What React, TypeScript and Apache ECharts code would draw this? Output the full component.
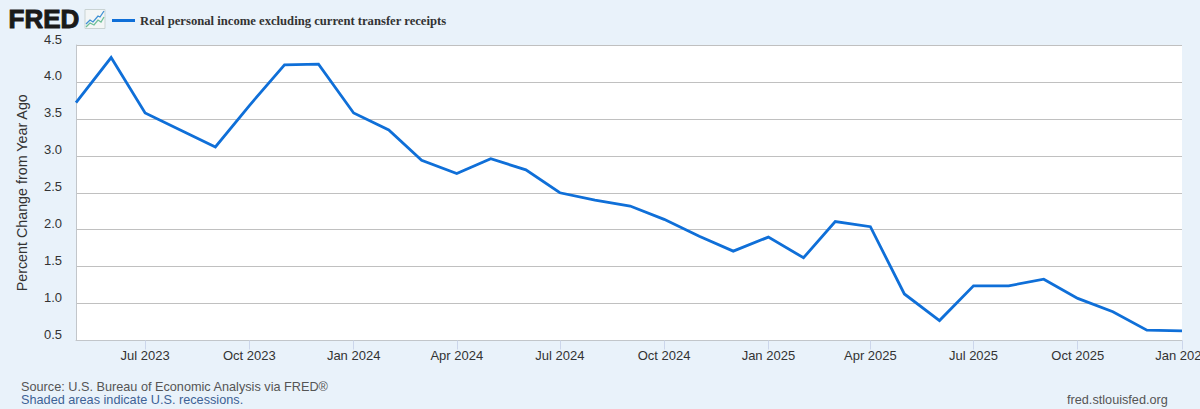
import React, { useEffect, useRef } from "react";
import * as echarts from "echarts";

const months = [
  "2023-05-01","2023-06-01","2023-07-01","2023-08-01","2023-09-01","2023-10-01","2023-11-01","2023-12-01",
  "2024-01-01","2024-02-01","2024-03-01","2024-04-01","2024-05-01","2024-06-01","2024-07-01","2024-08-01",
  "2024-09-01","2024-10-01","2024-11-01","2024-12-01","2025-01-01","2025-02-01","2025-03-01","2025-04-01",
  "2025-05-01","2025-06-01","2025-07-01","2025-08-01","2025-09-01","2025-10-01","2025-11-01","2025-12-01","2026-01-01",
];
const values = [
  3.72,4.33,3.58,3.35,3.12,3.68,4.23,4.24,
  3.58,3.35,2.94,2.76,2.96,2.81,2.50,2.40,
  2.32,2.14,1.91,1.71,1.90,1.62,2.11,2.04,
  1.13,0.77,1.24,1.24,1.33,1.07,0.89,0.64,0.63,
];
const tickDates = [
  "2023-07-01","2023-10-01","2024-01-01","2024-04-01","2024-07-01","2024-10-01",
  "2025-01-01","2025-04-01","2025-07-01","2025-10-01","2026-01-01",
];
const monthNames = ["Jan","Feb","Mar","Apr","May","Jun","Jul","Aug","Sep","Oct","Nov","Dec"];
const seriesName = "Real personal income excluding current transfer receipts";
const yAxisTitle = "Percent Change from Year Ago";
const sourceText = "Source: U.S. Bureau of Economic Analysis via FRED®";
const shadedText = "Shaded areas indicate U.S. recessions.";
const siteText = "fred.stlouisfed.org";

const SANS = '"Liberation Sans", Arial, sans-serif';
const toTime = (d: string) => Date.parse(d + "T00:00:00Z");

export default function App() {
  const ref = useRef<HTMLDivElement>(null);
  useEffect(() => {
    document.body.style.margin = "0";
    const chart = echarts.init(ref.current!, null, { renderer: "svg" });
    chart.setOption({
      animation: false,
      backgroundColor: "#e9f2fa",
      textStyle: { fontFamily: SANS },
      grid: {
        left: 76, right: 18, top: 45, bottom: 68.5,
        outerBoundsMode: "none",
        show: true, backgroundColor: "#ffffff", borderWidth: 0,
      },
      legend: {
        show: true, left: 107, top: 9,
        itemWidth: 23, itemHeight: 16, itemGap: 0,
        data: [{ name: seriesName, icon: "path://M0 0H23V3H0Z" }],
        textStyle: {
          fontFamily: '"Liberation Serif", serif', fontWeight: "bold",
          fontSize: 12.65, color: "#333333", padding: [0, 0, 3, 0],
        },
      },
      xAxis: {
        type: "value",
        min: toTime(months[0]),
        max: toTime(months[months.length - 1]),
        axisLine: { show: true, lineStyle: { color: "#c2c6ca", width: 1 } },
        axisTick: {
          show: true, length: 9, customValues: tickDates.map(toTime),
          lineStyle: { color: "#ccd6eb", width: 1 },
        },
        splitLine: { show: false },
        axisLabel: {
          customValues: tickDates.map(toTime),
          hideOverlap: false,
          margin: 8,
          fontSize: 13,
          color: "#333333",
          fontFamily: SANS,
          formatter: (v: number) => {
            const d = new Date(v);
            return monthNames[d.getUTCMonth()] + " " + d.getUTCFullYear();
          },
        },
      },
      yAxis: {
        type: "value",
        min: 0.5, max: 4.5, interval: 0.5,
        name: yAxisTitle,
        nameLocation: "middle",
        nameGap: 47,
        nameTextStyle: { fontSize: 14.3, color: "#333333", fontFamily: SANS },
        axisLine: { show: true, lineStyle: { color: "#c2c6ca", width: 1 } },
        axisTick: { show: false },
        splitLine: { show: true, lineStyle: { color: "#c0c0c0", width: 1 } },
        axisLabel: {
          margin: 14, fontSize: 13, color: "#333333", fontFamily: SANS,
          verticalAlign: "bottom", lineHeight: 12,
          formatter: (v: number) => v.toFixed(1),
        },
      },
      series: [{
        type: "line",
        name: seriesName,
        data: months.map((m, i) => [toTime(m), values[i]]),
        showSymbol: false,
        symbol: "none",
        lineStyle: { color: "#0f6fd8", width: 2.8, join: "miter" },
        itemStyle: { color: "#0f6fd8" },
      }],
      graphic: [
        { type: "text", x: 8.5, y: 8, style: {
          text: "FRED", fontFamily: SANS, fontWeight: 900, lineHeight: 22,
          fontSize: 26, fill: "#1a1a1a", stroke: "#1a1a1a", lineWidth: 1 } },
        { type: "rect", shape: { x: 85, y: 9.5, width: 20, height: 19 },
          style: { fill: "#f3f6f6", stroke: "#c9d3d3", lineWidth: 1 } },
        { type: "polyline", shape: { points: [[86,24],[90,20],[93,22],[98,16],[100,17],[104,11]] },
          style: { stroke: "#3f90d4", fill: "none", lineWidth: 1.3 } },
        { type: "polyline", shape: { points: [[86,27],[90,23],[94,25],[98,20],[101,22],[104,17]] },
          style: { stroke: "#6fbf98", fill: "none", lineWidth: 1.3 } },
        { type: "text", x: 21, y: 380, style: { text: sourceText, fontFamily: SANS, fontSize: 12.7, fill: "#555555" } },
        { type: "text", x: 21, y: 393.5, style: { text: shadedText, fontFamily: SANS, fontSize: 12.7, fill: "#3d6296" } },
        { type: "text", x: 1067, y: 393.5, style: { text: siteText, fontFamily: SANS, fontSize: 12.7, fill: "#555555" } },
      ],
    });
    return () => chart.dispose();
  }, []);
  return <div ref={ref} style={{ width: 1200, height: 409 }} />;
}
